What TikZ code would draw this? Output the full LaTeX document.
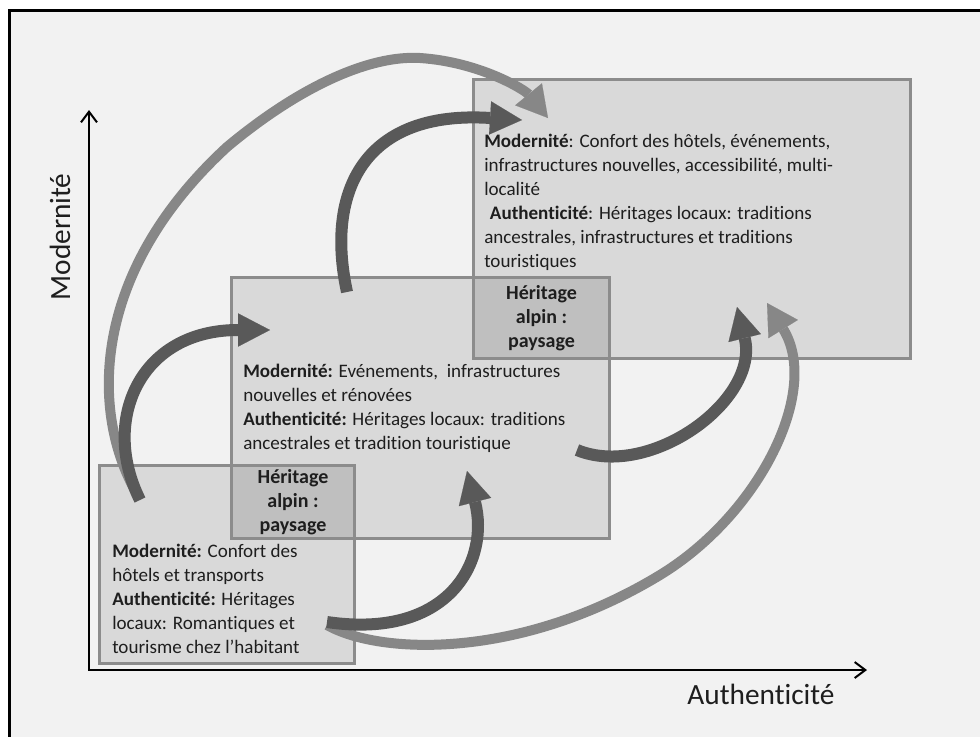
\documentclass[tikz,border=0pt]{standalone}
\usepackage{fontspec}
\setmainfont{Carlito}[Ligatures=NoCommon]
\usetikzlibrary{arrows.meta}
\definecolor{pagebg}{HTML}{F2F2F2}
\definecolor{boxfill}{HTML}{D9D9D9}
\definecolor{boxline}{HTML}{8C8C8C}
\definecolor{heritfill}{HTML}{BFBFBF}
\definecolor{arrowdark}{HTML}{595959}
\definecolor{arrowlight}{HTML}{878787}
\definecolor{textcol}{HTML}{1E1E1E}

\begin{document}
\begin{tikzpicture}[x=0.75pt,y=-0.75pt,
    zone/.style={draw=boxline, fill=boxfill, line width=2.25pt, anchor=north west, inner sep=0pt},
    herit/.style={zone, fill=heritfill, align=center, text=textcol, font=\fontsize{15}{18}\selectfont\bfseries},
    zonetext/.style={anchor=north west, inner sep=0pt, align=left, text=textcol, font=\fontsize{14.3}{18}\selectfont},
    axislabel/.style={text=textcol, font=\fontsize{22}{26}\selectfont},
    darkarrow/.style={draw=arrowdark, line width=9pt, -{Triangle[length=24pt,width=25pt,line width=0.1pt]}},
    lightarrow/.style={draw=arrowlight, line width=7.5pt, -{Triangle[length=23pt,width=26pt,line width=0.1pt]}}]
    \useasboundingbox (0,0) rectangle (980,736);
    \begin{scope}
        \clip (0,0) rectangle (980,736);
        \draw[line width=2.25pt, fill=pagebg] (9.5,10.5) rectangle (995,750);
    \end{scope}

    % boxes
    \node[zone, minimum width=327.75pt, minimum height=209.25pt] (boxTop) at (472,78) {};
    \node[zone, minimum width=283.5pt, minimum height=195.75pt] (boxMid) at (230,276) {};
    \node[zone, minimum width=191.25pt, minimum height=148.5pt] (boxLow) at (98,464) {};
    \node[herit, minimum width=102pt, minimum height=60.75pt] (heritHigh) at (472,276) {Héritage\\alpin :\\paysage};
    \node[herit, minimum width=92.25pt, minimum height=54.75pt] (heritLow) at (230,464) {Héritage\\alpin :\\paysage};

    \node[zonetext] (txtTop) at (484,134) {\textbf{Modernité}: Confort des hôtels, événements,\\infrastructures nouvelles, accessibilité, multi-\\localité\\\hspace*{0.3em}\textbf{Authenticité}: Héritages locaux: traditions\\ancestrales, infrastructures et traditions\\touristiques};
    \node[zonetext] (txtMid) at (243,364) {\textbf{Modernité:} Evénements,\ \ infrastructures\\nouvelles et rénovées\\\textbf{Authenticité:} Héritages locaux: traditions\\ancestrales et tradition touristique};
    \node[zonetext] (txtLow) at (112,544) {\textbf{Modernité:} Confort des\\hôtels et transports\\\textbf{Authenticité:} Héritages\\locaux: Romantiques et\\tourisme chez l’habitant};

    % axes
    \coordinate (origin) at (89,670);
    \coordinate (modEnd) at (89,110);
    \coordinate (autEnd) at (867,670);
    \draw[line width=1.5pt, {Straight Barb[length=8pt,width=12pt]}-{Straight Barb[length=8pt,width=12pt]}] (modEnd) -- (origin) -- (autEnd);
    \node[axislabel, rotate=90] (labMod) at (60,237) {Modernité};
    \node[axislabel] (labAut) at (761,694) {Authenticité};

    % transitions
    \coordinate (bStart) at (136,492);
    \coordinate (bEnd) at (548,118);
    \coordinate (eStart) at (327,625);
    \coordinate (eEnd) at (767,303);
    \coordinate (aStart) at (140,500);
    \coordinate (aEnd) at (270,330);
    \coordinate (cStart) at (347,292);
    \coordinate (cEnd) at (522,120);
    \coordinate (dStart) at (577,450);
    \coordinate (dEnd) at (737,307);
    \coordinate (fStart) at (327,622);
    \coordinate (fEnd) at (467,471);
    \draw[lightarrow] (bStart) .. controls (92,415) and (88,275) .. (227,147) .. controls (300,86) and (370,55) .. (420,58) .. controls (480,62) and (525,90) .. (bEnd);
    \draw[lightarrow] (eStart) .. controls (380,655) and (520,660) .. (660,575) .. controls (760,514) and (821,390) .. (eEnd);
    \draw[darkarrow] (aStart) .. controls (100,420) and (140,330) .. (aEnd);
    \draw[darkarrow] (cStart) .. controls (325,190) and (365,110) .. (cEnd);
    \draw[darkarrow] (dStart) .. controls (650,480) and (760,400) .. (dEnd);
    \draw[darkarrow] (fStart) .. controls (450,640) and (490,560) .. (fEnd);
\end{tikzpicture}
\end{document}
